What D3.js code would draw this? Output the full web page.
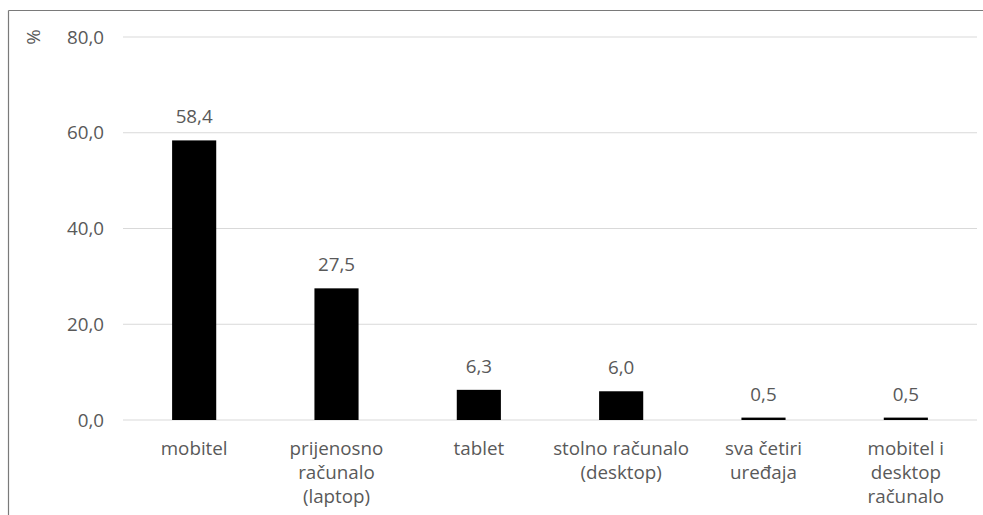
<!DOCTYPE html>
<html>
<head>
<meta charset="utf-8">
<script src="https://cdn.jsdelivr.net/npm/d3@7"></script>
<style>
  html, body { margin: 0; padding: 0; background: #fff; }
  svg { display: block; }
  text { font-family: "Open Sans", "Noto Sans", sans-serif; fill: #595959; }
</style>
</head>
<body>
<svg id="chart" width="983" height="515"></svg>
<script>
// Device categories (label lines) and share of respondents, %
const categories = [
  ["mobitel"],
  ["prijenosno", "računalo", "(laptop)"],
  ["tablet"],
  ["stolno računalo", "(desktop)"],
  ["sva četiri", "uređaja"],
  ["mobitel i", "desktop", "računalo"]
];
const values = [58.4, 27.5, 6.3, 6.0, 0.5, 0.5];
const yTicks = [0, 20, 40, 60, 80];
const yUnit = "%";

const svg = d3.select("#chart");
const W = 983, H = 515;
const plot = { left: 123, right: 977, top: 37, bottom: 420 };
const fs = 18.8;

// frame: top and left edges only
svg.append("line").attr("x1", 8.5).attr("x2", W).attr("y1", 10.5).attr("y2", 10.5)
  .attr("stroke", "#7a7a7a").attr("stroke-width", 1.2);
svg.append("line").attr("x1", 8.5).attr("x2", 8.5).attr("y1", 10.5).attr("y2", H)
  .attr("stroke", "#7a7a7a").attr("stroke-width", 1.2);

const x = d3.scaleBand()
  .domain(d3.range(categories.length))
  .range([plot.left, plot.right])
  .paddingInner(0.69)
  .paddingOuter(0.345);

const y = d3.scaleLinear().domain([0, 80]).range([plot.bottom, plot.top]);

const fmt = v => d3.format(".1f")(v).replace(".", ",");

// gridlines
svg.append("g").selectAll("line").data(yTicks).join("line")
  .attr("x1", plot.left).attr("x2", plot.right)
  .attr("y1", d => y(d)).attr("y2", d => y(d))
  .attr("stroke", "#d9d9d9").attr("stroke-width", 1.2);

// y axis labels
const yAxis = d3.axisLeft(y).tickValues(yTicks).tickFormat(fmt).tickSize(0).tickPadding(0);
const gy = svg.append("g").attr("transform", `translate(104,0)`).call(yAxis);
gy.select(".domain").remove();
gy.selectAll("text").attr("font-size", fs).style("font-family", null).attr("fill", "#595959");

// unit label
svg.append("text")
  .attr("transform", `translate(33,${y(80)}) rotate(-90)`)
  .attr("text-anchor", "middle").attr("dy", "0.35em")
  .attr("font-size", fs).text(yUnit);

// bars
svg.append("g").selectAll("rect").data(values).join("rect")
  .attr("x", (d, i) => x(i))
  .attr("width", x.bandwidth())
  .attr("y", d => y(d))
  .attr("height", d => y(0) - y(d))
  .attr("fill", "#000");

// value labels
svg.append("g").selectAll("text").data(values).join("text")
  .attr("x", (d, i) => x(i) + x.bandwidth() / 2)
  .attr("y", d => y(d) - 17)
  .attr("text-anchor", "middle")
  .attr("font-size", fs)
  .text(fmt);

// category labels
const cat = svg.append("g").selectAll("text").data(categories).join("text")
  .attr("x", (d, i) => x(i) + x.bandwidth() / 2)
  .attr("y", 455)
  .attr("text-anchor", "middle")
  .attr("font-size", fs);
cat.selectAll("tspan").data(d => d).join("tspan")
  .attr("x", function () { return this.parentNode.getAttribute("x"); })
  .attr("dy", (d, i) => i === 0 ? 0 : 24)
  .text(d => d);
</script>
</body>
</html>
